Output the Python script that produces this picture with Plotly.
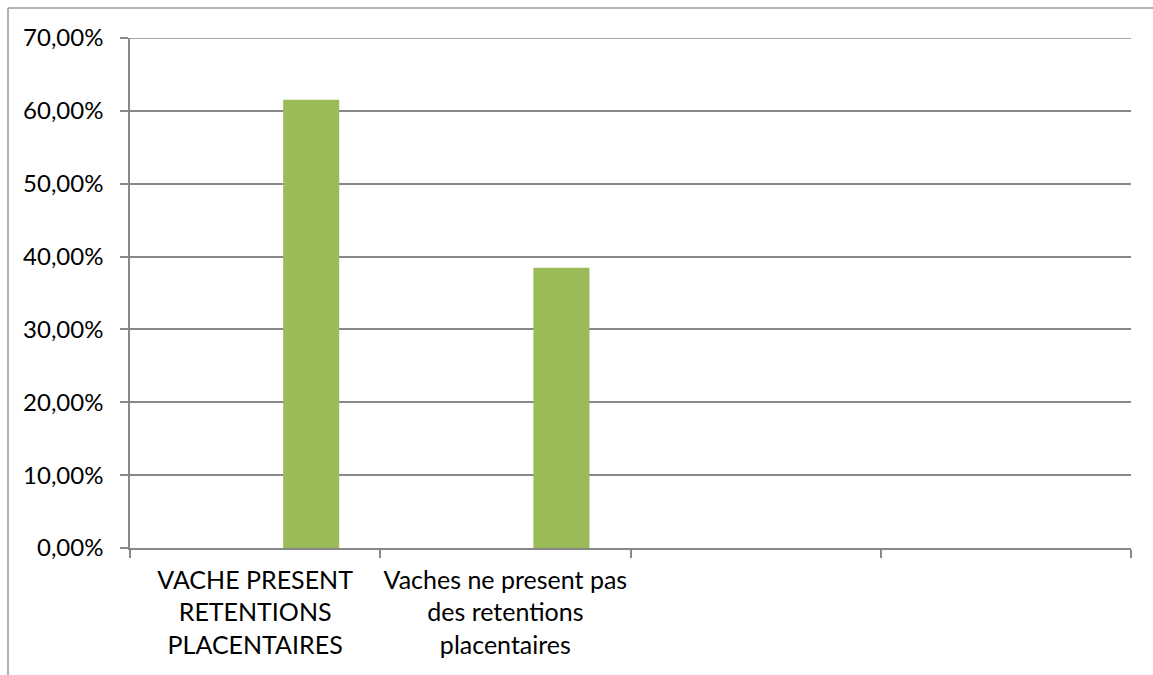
import plotly.graph_objects as go

# Chart data
categories = [
    "VACHE PRESENT<br>RETENTIONS<br>PLACENTAIRES",
    "Vaches ne present pas<br>des retentions<br>placentaires",
    " ",
    "  ",
]
shares = [0.6154, 0.3846, None, None]
y_ticks = [0, 0.1, 0.2, 0.3, 0.4, 0.5, 0.6, 0.7]

W, H = 1153, 675
ML, MR, MT, MB = 130, 22, 38, 127
FONT = "Lato"
GRID = "#888888"

fig = go.Figure(
    go.Bar(
        x=categories,
        y=shares,
        marker=dict(color="#9BBB59", line=dict(width=0)),
        width=0.224,
        offset=0.112,
    )
)

# partial chart frame (top and left edges)
fx0 = (8 - ML) / (W - ML - MR)
fy0 = 1 + (MT - 8) / (H - MT - MB)
fy1 = -(MB) / (H - MT - MB)
fx1 = 1 + MR / (W - ML - MR)
frame = dict(color="#9a9a9a", width=1.5)
fig.add_shape(type="line", xref="paper", yref="paper", x0=fx0, x1=fx1, y0=fy0, y1=fy0, line=frame)
fig.add_shape(type="line", xref="paper", yref="paper", x0=fx0, x1=fx0, y0=fy0, y1=fy1, line=frame)
# gridline along the top of the plot area (plotly skips it at the edge)
fig.add_shape(type="line", xref="paper", yref="y", x0=0, x1=1, y0=y_ticks[-1], y1=y_ticks[-1],
              line=dict(color=GRID, width=1.5), layer="below")

fig.update_layout(
    width=W,
    height=H,
    margin=dict(l=ML, r=MR, t=MT, b=MB),
    paper_bgcolor="white",
    plot_bgcolor="white",
    separators=",.",
    showlegend=False,
    font=dict(family=FONT, size=24, color="#000000"),
    xaxis=dict(
        type="category",
        categoryorder="array",
        categoryarray=categories,
        range=[-0.5, 3.5],
        tickson="boundaries",
        ticks="outside",
        ticklen=8,
        tickwidth=1.5,
        tickcolor=GRID,
        showline=True,
        linecolor=GRID,
        linewidth=1.5,
        showgrid=False,
        tickfont=dict(family=FONT, size=25),
        tickangle=0,
        ticklabelstandoff=9,
    ),
    yaxis=dict(
        range=[0, 0.7],
        tickvals=y_ticks,
        tickformat=".2%",
        ticks="outside",
        ticklen=8,
        tickwidth=1.5,
        tickcolor=GRID,
        showline=True,
        linecolor=GRID,
        linewidth=1.5,
        showgrid=True,
        gridcolor=GRID,
        gridwidth=1.5,
        zeroline=False,
        tickfont=dict(family=FONT, size=24),
        ticklabelstandoff=12,
    ),
)

fig.write_html("out.html")
